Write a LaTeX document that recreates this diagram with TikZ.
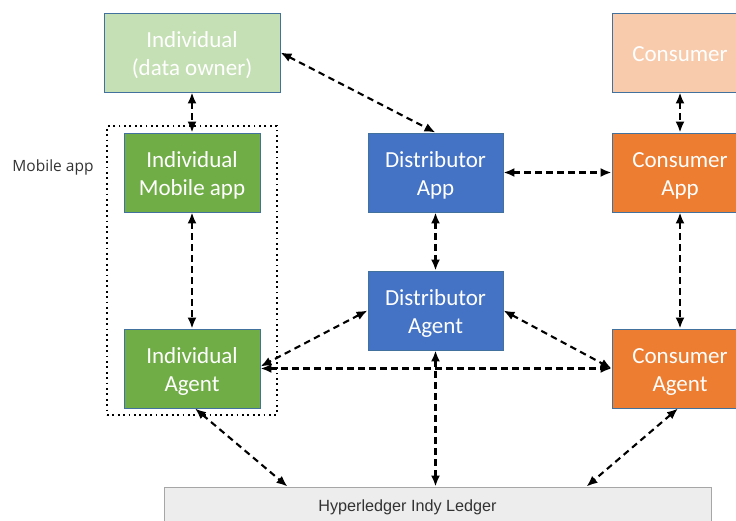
\documentclass[tikz,border=0pt]{standalone}
\usepackage{fontspec}
\setmainfont{Carlito}
\newfontfamily\labelfont{Open Sans}
\newfontfamily\ledgerfont{Liberation Sans}
\usetikzlibrary{arrows.meta}

\definecolor{lightgreen}{HTML}{C5E0B4}
\definecolor{appgreen}{HTML}{70AD47}
\definecolor{appblue}{HTML}{4472C4}
\definecolor{lightorange}{HTML}{F8CBAD}
\definecolor{apporange}{HTML}{ED7D31}
\definecolor{outline}{HTML}{41719C}
\definecolor{ledgerfill}{HTML}{EDEDED}
\definecolor{ledgerline}{HTML}{A6A6A6}
\definecolor{darktext}{HTML}{333333}

% box caption, set a little below the box centre
\newcommand\boxtext[1]{\raisebox{0pt}[\dimexpr\height+6pt\relax][\depth]{\begin{tabular}{@{}c@{}}#1\end{tabular}}}

\tikzset{
  box/.style={draw=outline, line width=0.9pt, minimum width=136pt, minimum height=79pt,
    align=center, text=white, inner sep=2pt,
    font=\fontsize{23}{28}\selectfont},
  link/.style={line width=2.1pt, dash pattern=on 6.5pt off 4.5pt,
    {Latex[length=11pt,width=9pt]}-{Latex[length=11pt,width=9pt]}},
  group/.style={draw, line width=1.8pt, dash pattern=on 1.8pt off 3.6pt,
    minimum width=170pt, minimum height=289pt},
}

\begin{document}
\begin{tikzpicture}[x=1pt,y=-1pt]
  \useasboundingbox (0,0) rectangle (736,521);
  \clip (0,0) rectangle (736,521);

  % mobile app grouping
  \node[group] (grp) at (192,270.5) {};
  \node[font=\labelfont\fontsize{15.5}{18}\selectfont, text=darktext] (grplabel) at (53,167) {Mobile app};

  % individual column
  \node[box, fill=lightgreen, minimum width=176pt] (owner) at (192,52.5) {\boxtext{Individual\\(data owner)}};
  \node[box, fill=appgreen] (imob) at (192,172.5) {\boxtext{Individual\\Mobile app}};
  \node[box, fill=appgreen] (iagent) at (192,368.5) {\boxtext{Individual\\Agent}};

  % distributor column
  \node[box, fill=appblue, minimum width=135pt] (dapp) at (435.5,172.5) {\boxtext{Distributor\\App}};
  \node[box, fill=appblue, minimum width=135pt] (dagent) at (435.5,310.5) {\boxtext{Distributor\\Agent}};

  % consumer column
  \node[box, fill=lightorange] (cons) at (680,52.5) {\boxtext{Consumer}};
  \node[box, fill=apporange] (capp) at (680,172.5) {\boxtext{Consumer\\App}};
  \node[box, fill=apporange] (cagent) at (680,368.5) {\boxtext{Consumer\\Agent}};

  % ledger
  \node[draw=ledgerline, line width=0.9pt, fill=ledgerfill, minimum width=547pt, minimum height=40pt,
        text=darktext, font=\ledgerfont\fontsize{16.2}{19}\selectfont] (ledger) at (437.5,507)
        {\raisebox{3pt}{\makebox[0pt]{\hspace{-60pt}Hyperledger Indy Ledger}}};

  % connectors
  \draw[link] (owner.south) -- (imob.north);
  \draw[link] (imob.south) -- (iagent.north);
  \draw[link] (owner.east) -- (dapp.north);
  \draw[link] (dapp.east) -- (capp.west);
  \draw[link] (dapp.south) -- (dagent.north);
  \draw[link] (cons.south) -- (capp.north);
  \draw[link] (capp.south) -- (cagent.north);
  \draw[link] (dagent.west) -- ([yshift=2pt]iagent.east);
  \draw[link] (iagent.east) -- (cagent.west);
  \draw[link] (dagent.east) -- (cagent.west);
  \draw[link] ([xshift=3pt]iagent.south) -- ([xshift=-150pt]ledger.north);
  \draw[link] (dagent.south) -- (dagent.south |- ledger.north);
  \draw[link] ([xshift=-2pt]cagent.south) -- ([xshift=149pt]ledger.north);
\end{tikzpicture}
\end{document}
